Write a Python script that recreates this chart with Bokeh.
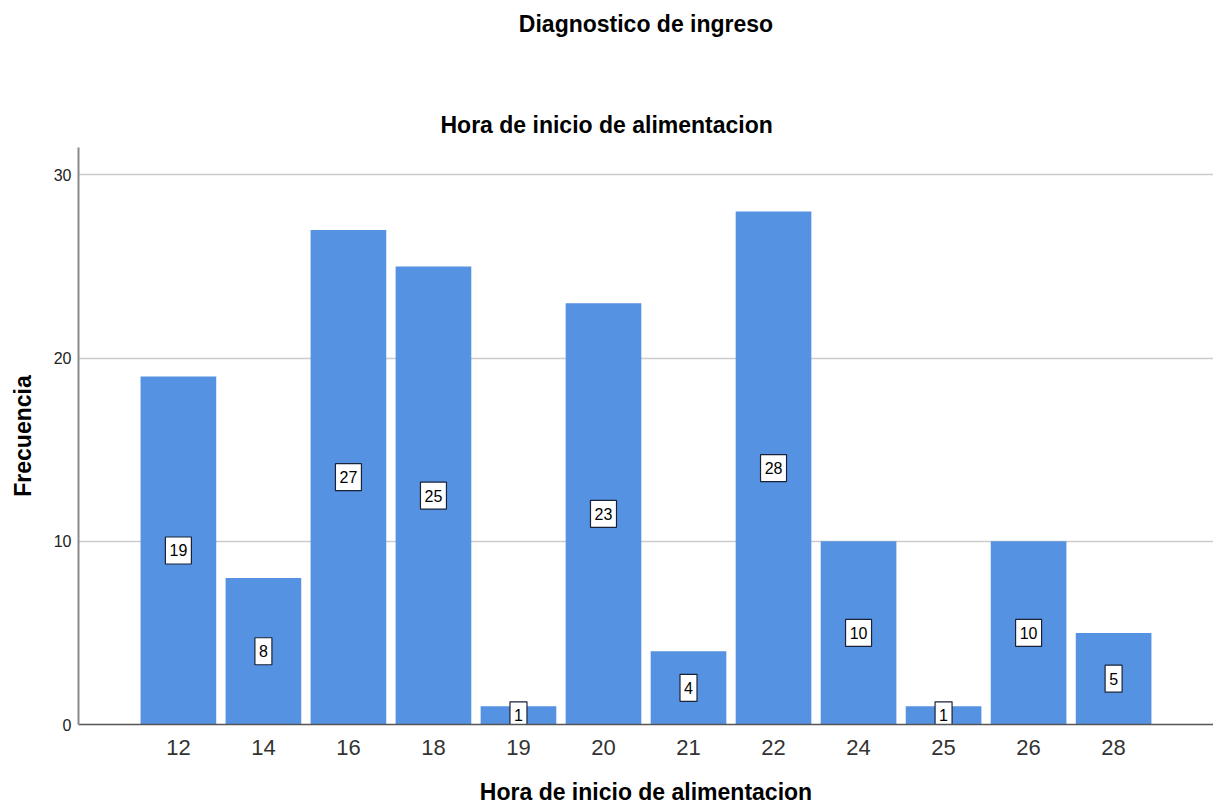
from bokeh.plotting import figure
from bokeh.models import ColumnDataSource, FactorRange, Title, FixedTicker, Range1d
from bokeh.core.properties import value
from bokeh.embed import file_html
from bokeh.resources import INLINE

horas = ["12", "14", "16", "18", "19", "20", "21", "22", "24", "25", "26", "28"]
frecuencia = [19, 8, 27, 25, 1, 23, 4, 28, 10, 1, 10, 5]
y_ticks = [0, 10, 20, 30]

FONT = "Liberation Sans"
BAR = "#5592e2"

etiquetas = [str(f) for f in frecuencia]
src = ColumnDataSource(dict(
    hora=horas,
    frec=frecuencia,
    mid=[f / 2 for f in frecuencia],
    txt=etiquetas,
    box_w=[8 + 9 * len(t) for t in etiquetas],
))

W, H = 1213, 807
LEFT, TOP, BOTTOM = 78, 147, 83

p = figure(
    x_range=FactorRange(factors=horas, range_padding=0.1125),
    y_range=Range1d(0, 31.5),
    width=W, height=H,
    output_backend="svg", toolbar_location=None, title=None,
    min_border_left=LEFT, min_border_right=0, min_border_top=TOP, min_border_bottom=BOTTOM,
)
p.outline_line_color = None

# titles, stacked outward from the frame: subtitle, spacer, main title
p.add_layout(Title(text="Hora de inicio de alimentacion", align="left", offset=440 - LEFT,
                   text_font=FONT, text_font_size="23px", text_font_style="bold",
                   text_color="black", standoff=20), "above")
p.add_layout(Title(text=" ", text_font_size="1px", standoff=58), "above")
p.add_layout(Title(text="Diagnostico de ingreso", align="center",
                   text_font=FONT, text_font_size="23px", text_font_style="bold",
                   text_color="black", standoff=4), "above")

p.vbar(x="hora", top="frec", width=0.89, source=src,
       fill_color=BAR, line_color=None)

p.rect(x="hora", y="mid", width="box_w", height=27, width_units="screen", height_units="screen",
       source=src, fill_color="white", line_color="#1a2238", line_width=1.2)
p.text(x="hora", y="mid", text="txt", source=src, text_align="center", text_baseline="middle",
       text_font=value(FONT), text_font_size="16px", text_color="black")

# grid
p.xgrid.grid_line_color = None
p.ygrid.ticker = FixedTicker(ticks=y_ticks[1:])
p.ygrid.grid_line_color = "#cccccc"
p.ygrid.grid_line_width = 1.5

# y axis
p.yaxis.ticker = FixedTicker(ticks=y_ticks)
p.yaxis.axis_label = "Frecuencia"
p.yaxis.axis_label_text_font = FONT
p.yaxis.axis_label_text_font_size = "23px"
p.yaxis.axis_label_text_font_style = "bold"
p.yaxis.axis_label_text_color = "black"
p.yaxis.axis_label_standoff = 15
p.yaxis.major_label_text_font = FONT
p.yaxis.major_label_text_font_size = "16px"
p.yaxis.major_label_text_color = "#222222"
p.yaxis.major_label_standoff = 7
p.yaxis.major_tick_line_color = None
p.yaxis.minor_tick_line_color = None
p.yaxis.major_tick_out = 0
p.yaxis.minor_tick_out = 0
p.yaxis.axis_line_color = "#8a8a8a"
p.yaxis.axis_line_width = 2

# x axis
p.xaxis.axis_label = "Hora de inicio de alimentacion"
p.xaxis.axis_label_text_font = FONT
p.xaxis.axis_label_text_font_size = "23px"
p.xaxis.axis_label_text_font_style = "bold"
p.xaxis.axis_label_text_color = "black"
p.xaxis.axis_label_standoff = 21
p.xaxis.major_label_text_font = FONT
p.xaxis.major_label_text_font_size = "22px"
p.xaxis.major_label_text_color = "#333333"
p.xaxis.major_label_standoff = 9
p.xaxis.major_tick_line_color = None
p.xaxis.axis_line_color = "#555555"
p.xaxis.axis_line_width = 1.5

open("out.html", "w").write(file_html(p, INLINE))
